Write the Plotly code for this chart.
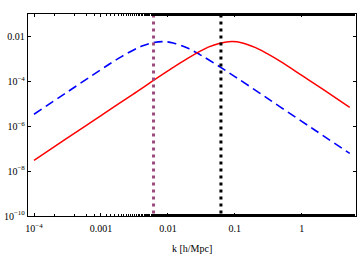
import plotly.graph_objects as go

# data
k_red = [1e-4, 3e-4, 1e-3, 3e-3, 0.01, 0.02, 0.04, 0.06, 0.09, 0.13, 0.2, 0.3, 0.5, 1, 2, 5.2]
logp_red = [-7.52, -6.56, -5.52, -4.57, -3.53, -2.96, -2.47, -2.29, -2.22, -2.28, -2.48, -2.75, -3.14, -3.73, -4.32, -5.16]

k_blue = [1e-4, 3e-4, 1e-3, 2e-3, 4e-3, 6e-3, 8.3e-3, 0.012, 0.02, 0.03, 0.05, 0.1, 0.3, 1, 2, 5.2]
logp_blue = [-5.46, -4.51, -3.47, -2.90, -2.43, -2.27, -2.22, -2.28, -2.52, -2.80, -3.20, -3.78, -4.73, -5.78, -6.38, -7.21]

vline_k = [0.0061, 0.062]
vline_colors = ["#9A4A7C", "#000000"]

xtick_vals = [1e-4, 1e-3, 1e-2, 1e-1, 1]
xtick_text = ["10<sup>−4</sup>", "0.001", "0.01", "0.1", "1"]
ytick_vals = [1e-10, 1e-8, 1e-6, 1e-4, 1e-2]
ytick_text = ["10<sup>−10</sup>", "10<sup>−8</sup>", "10<sup>−6</sup>", "10<sup>−4</sup>", "0.01"]
x_title = "k [h/Mpc]"

y_bottom, y_top = 1.3e-10, 0.09

fig = go.Figure()
fig.add_trace(go.Scatter(x=k_blue, y=[10**v for v in logp_blue], mode="lines",
                         line=dict(color="#0000FF", width=1.6, dash="9px,5px", shape="spline")))
fig.add_trace(go.Scatter(x=k_red, y=[10**v for v in logp_red], mode="lines",
                         line=dict(color="#FF0000", width=1.5, shape="spline")))
for kv, c in zip(vline_k, vline_colors):
    fig.add_trace(go.Scatter(x=[kv, kv], y=[y_bottom, y_top], mode="lines",
                             line=dict(color=c, width=3, dash="3px,4px")))

font = dict(family="Liberation Serif, Times New Roman, serif", size=10, color="black")
fig.update_layout(
    width=360, height=256,
    margin=dict(l=28, r=4, t=14, b=40, autoexpand=False),
    paper_bgcolor="white", plot_bgcolor="white",
    showlegend=False,
    font=font,
    xaxis=dict(type="log", range=[-4.09, 0.81], tickvals=xtick_vals, ticktext=xtick_text,
               ticks="inside", ticklen=3, tickwidth=1, tickcolor="black",
               showline=True, linecolor="black", linewidth=1.3, mirror="ticks",
               showgrid=False, zeroline=False, automargin=False, ticklabelstandoff=3,
               minor=dict(ticks="inside", ticklen=1.5, tickwidth=0.7, tickcolor="black", showgrid=False)),
    yaxis=dict(type="log", range=[-10, -0.99], tickvals=ytick_vals, ticktext=ytick_text,
               ticks="inside", ticklen=3, tickwidth=1, tickcolor="black",
               showline=True, linecolor="black", linewidth=1.3, mirror="ticks",
               showgrid=False, zeroline=False, automargin=False),
    annotations=[dict(text=x_title, xref="paper", yref="paper", x=0.5, y=-0.163,
                      xanchor="center", yanchor="middle", showarrow=False, font=font)],
)
fig.write_html("out.html", config={"displayModeBar": False},
               post_script="document.body.style.margin='0';")
